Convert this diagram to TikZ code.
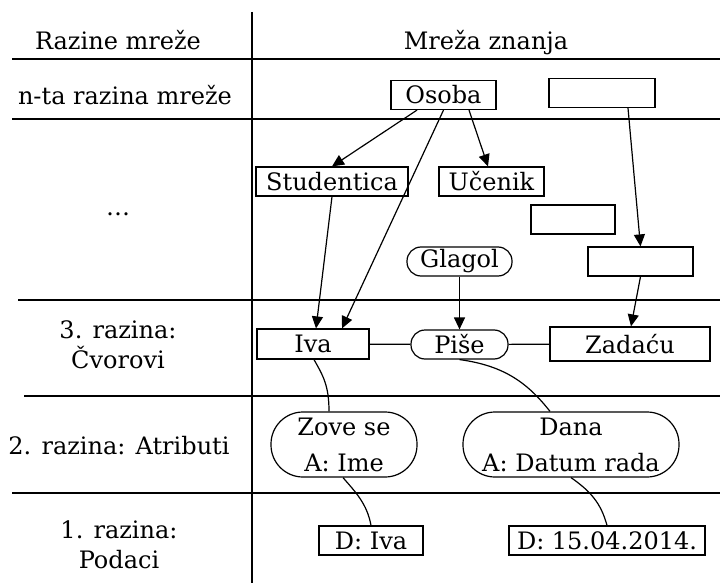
\documentclass[tikz,border=0pt]{standalone}
\usepackage{fontspec}
\setmainfont{DejaVu Serif}
\usepackage{tikz}
\usetikzlibrary{shapes,arrows.meta}

\tikzset{
  box/.style={draw, rectangle, line width=1.2pt, minimum height=29pt, inner sep=2pt},
  pill/.style={draw, rectangle, rounded corners=14pt, line width=1.2pt, minimum height=29pt, inner sep=2pt},
  attr/.style={draw, rectangle, rounded corners=32pt, line width=1.2pt, minimum height=65pt,
    inner sep=0pt, align=center, font=\fontsize{24pt}{36pt}\selectfont},
  levl/.style={align=center, font=\fontsize{24pt}{30pt}\selectfont},
  link/.style={line width=1.2pt},
  arr/.style={link, -{Triangle[length=12pt,width=11pt]}},
  rule/.style={line width=1.4pt}
}

\begin{document}
\begin{tikzpicture}[x=1pt, y=-1pt, font=\fontsize{24pt}{30pt}\selectfont]
            \useasboundingbox (0,0) rectangle (720,583);
            % table
            \draw[line width=2pt] (252,12) -- (252,583);
            \draw[rule] (12,59) -- (720,59);
            \draw[rule] (12,119) -- (720,119);
            \draw[rule] (18,300) -- (720,300);
            \draw[rule] (24,396) -- (720,396);
            \draw[rule] (12,493) -- (720,493);
            % levels
            \draw node[anchor=base] (hlev) at (118,50) {Razine mreže} ;
            \draw node[anchor=base] (hnet) at (486,50) {Mreža znanja} ;
            \draw node[anchor=base] (levn) at (125,105) {n-ta razina mreže} ;
            \draw node[anchor=base] (levdots) at (118,215) {…} ;
            \draw node[levl] (lev3) at (118,345) {3. razina:\\Čvorovi} ;
            \draw node[anchor=base] (lev2) at (119,454) {2. razina: Atributi} ;
            \draw node[levl] (lev1) at (119,545) {1. razina:\\Podaci} ;
            % knowledge network
            \draw node[box, minimum width=105pt] (osoba) at (443.5,95) {Osoba} ;
            \draw node[box, minimum width=106pt] (top2) at (602,93) {} ;
            \draw node[box, minimum width=152pt] (stud) at (332,181.5) {Studentica} ;
            \draw node[box, minimum width=105pt] (ucenik) at (491.5,181.5) {Učenik} ;
            \draw node[box, minimum width=84pt] (mid) at (573,219.5) {} ;
            \draw node[pill, minimum width=105pt] (glagol) at (459.5,261.5) {Glagol} ;
            \draw node[box, minimum width=105pt] (low2) at (640.5,261.5) {} ;
            \draw node[box, minimum width=112pt, minimum height=30pt] (iva) at (313,344) {Iva} ;
            \draw node[pill, minimum width=97pt] (pise) at (459.5,344.5) {Piše} ;
            \draw node[box, minimum width=160pt, minimum height=34pt] (zadacu) at (630,344) {Zadaću} ;
            \draw node[attr, minimum width=146pt] (zove) at (344,444.5) {Zove se\\A: Ime} ;
            \draw node[attr, minimum width=216pt] (dana) at (571,444.5) {Dana\\A: Datum rada} ;
            \draw node[box, minimum width=104pt] (dval) at (371,540.5) {D: Iva} ;
            \draw node[box, minimum width=196pt] (dnum) at (607,540.5) {D: 15.04.2014.} ;
            \draw[arr] ([xshift=-26.5pt]osoba.south) -- (stud.north) ;
            \draw[arr] (osoba.south) -- ([xshift=29pt]iva.north) ;
            \draw[arr] ([xshift=25.5pt]osoba.south) -- ([xshift=-3.5pt]ucenik.north) ;
            \draw[arr] (stud.south) -- ([xshift=3pt]iva.north) ;
            \draw[arr] ([xshift=26pt]top2.south) -- (low2.north) ;
            \draw[arr] (glagol) -- (pise) ;
            \draw[arr] (low2.south) -- ([xshift=1pt]zadacu.north) ;
            \draw[link] (iva) -- (pise) ;
            \draw[link] (pise) -- (zadacu) ;
            \draw[link] ([xshift=1pt]iva.south) .. controls +(9,16) and +(0,-26) .. ([xshift=-15pt]zove.north) ;
            \draw[link] (pise.south) .. controls +(45,6) and +(-22,-28) .. ([xshift=-21pt]dana.north) ;
            \draw[link] ([xshift=-1pt]zove.south) .. controls +(12,14) and +(-4,-22) .. (dval.north) ;
            \draw[link] (dana.south) .. controls +(20,14) and +(-6,-22) .. (dnum.north) ;
        \end{tikzpicture}
\end{document}
